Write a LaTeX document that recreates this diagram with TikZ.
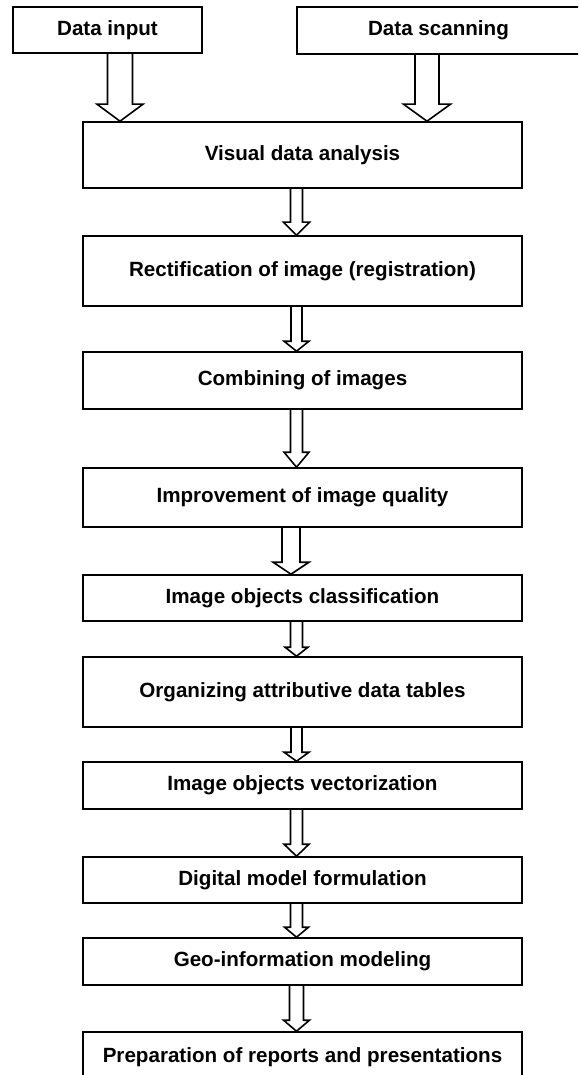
\documentclass[tikz,border=0pt]{standalone}
\usepackage{fontspec}
\setmainfont{Liberation Sans}
\usetikzlibrary{calc}

% hollow block arrow: start, tip, shaft half-width, head half-width, head length
\newcommand{\flowarrow}[5]{%
	\draw[arrowline] ($(#1)+(-#3,0)$) -- ($(#2)+(-#3,-#5)$) -- ($(#2)+(-#4,-#5)$) -- (#2)
		-- ($(#2)+(#4,-#5)$) -- ($(#2)+(#3,-#5)$) -- ($(#1)+(#3,0)$);
}

\begin{document}
\begin{tikzpicture}[x=0.5pt, y=-0.5pt,
	every node/.style={font=\fontsize{10.3}{12}\selectfont\bfseries},
	box/.style={draw, line width=0.8pt, inner sep=0pt},
	stage/.style={box, minimum width=219.5pt},
	arrowline/.style={line width=0.8pt, line join=miter}]

	\clip (0,0) rectangle (578,1075);

	% ============ SOURCES ============

	\node[box, minimum width=94.5pt, minimum height=23pt] (din) at (107.5,30) {Data input};
	\node[box, minimum width=141.5pt, minimum height=23.5pt] (dsc) at (438.5,30.5) {Data scanning};

	% ============ PROCESSING CHAIN ============

	\foreach \n/\y/\h/\t in {vis/155/33/Visual data analysis,
		rec/271/35/Rectification of image (registration),
		cmb/380.5/28.5/Combining of images,
		imp/497.5/29.5/Improvement of image quality,
		cls/598/23/Image objects classification,
		org/692/35/Organizing attributive data tables,
		vec/785.5/23.5/Image objects vectorization,
		dig/880/23/Digital model formulation,
		geo/961.5/23.5/Geo-information modeling,
		prp/1057/25/Preparation of reports and presentations} {
		\node[stage, minimum height=\h pt] (\n) at (302.5,\y) {\t};
	}

	% arrow columns
	\coordinate (inarr) at (120,0);
	\coordinate (scarr) at (427,0);
	\coordinate (col) at (296.5,0);
	\coordinate (colb) at (291,0);

	% ============ ARROWS ============

	\flowarrow{din.south -| inarr}{vis.north -| inarr}{12.5}{23}{17}
	\flowarrow{dsc.south -| scarr}{vis.north -| scarr}{12}{23.5}{17}

	\foreach \a/\b/\c/\s/\hw/\hl in {vis/rec/col/6/13/13,
		rec/cmb/col/5.5/12.5/10,
		cmb/imp/col/6/12.5/15,
		imp/cls/colb/9/18/12,
		cls/org/col/6/11.5/9,
		org/vec/col/5.5/12.5/9,
		vec/dig/col/6/12.5/12,
		dig/geo/col/6/12/10,
		geo/prp/col/7/13/11} {
		\flowarrow{\a.south -| \c}{\b.north -| \c}{\s}{\hw}{\hl}
	}

\end{tikzpicture}
\end{document}
